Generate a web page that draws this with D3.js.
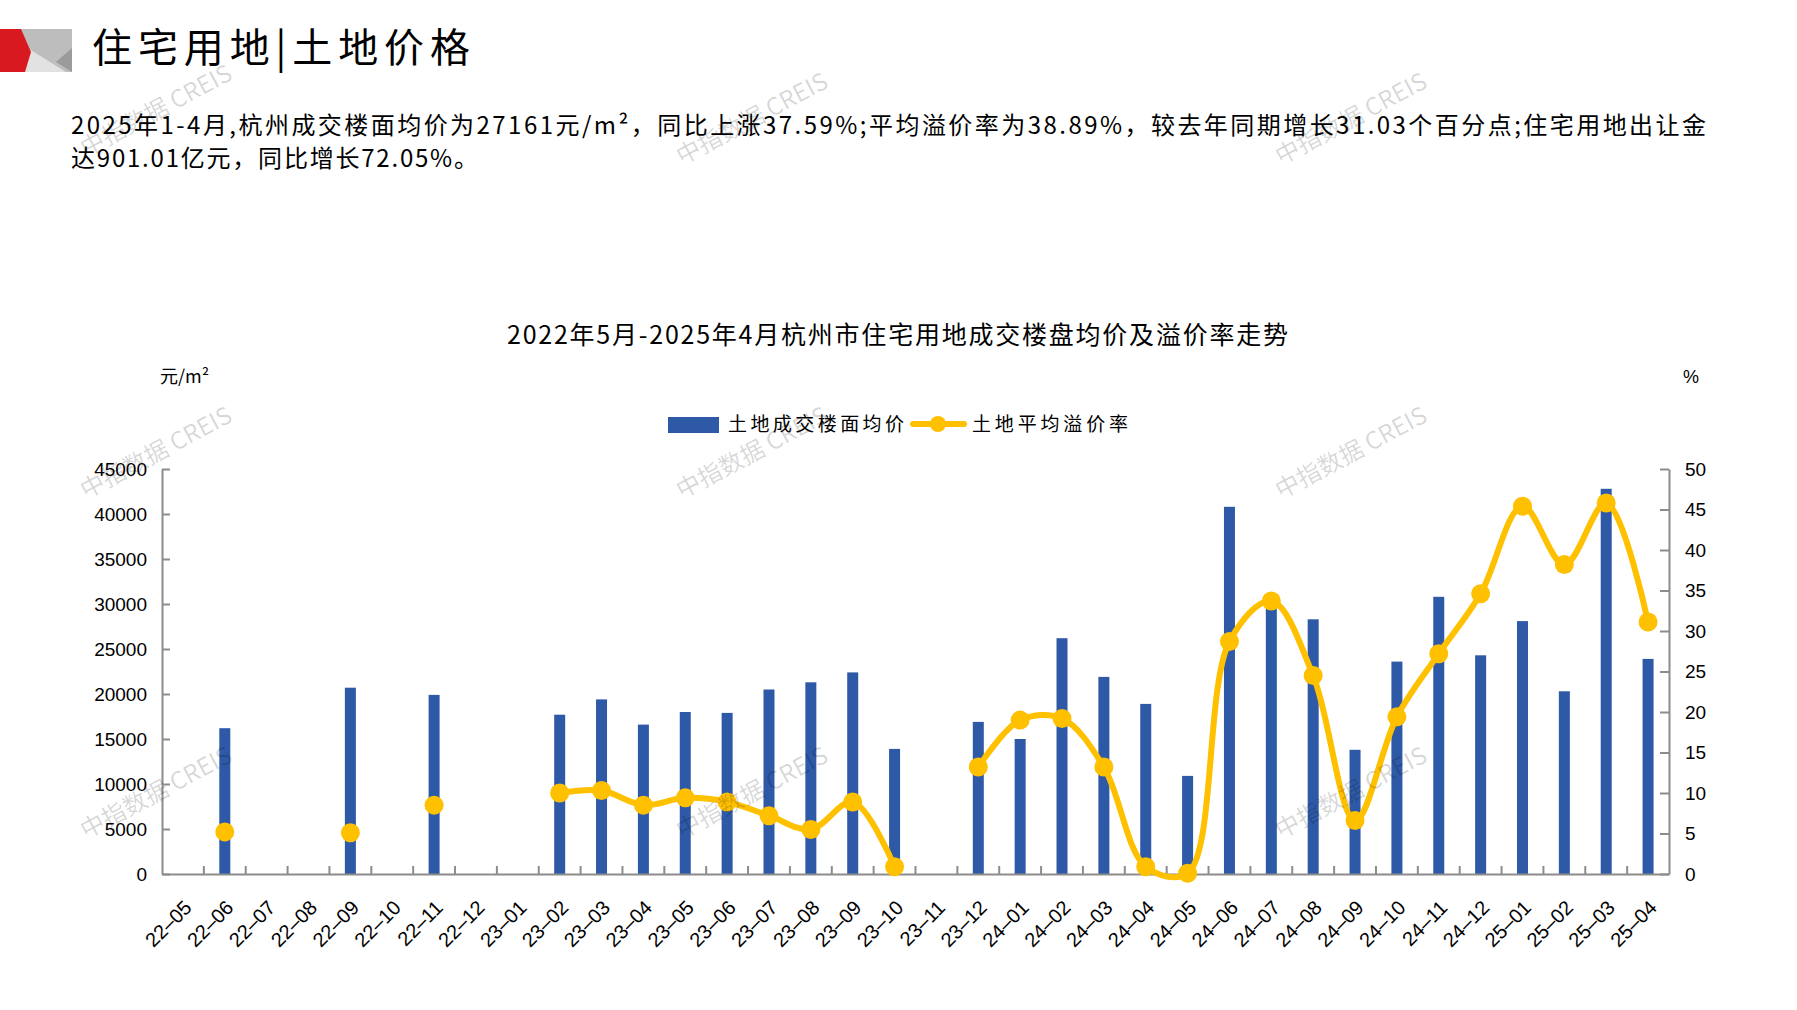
<!DOCTYPE html>
<html>
<head>
<meta charset="utf-8">
<script src="https://cdn.jsdelivr.net/npm/d3@7"></script>
<style>
  body { margin: 0; background: #fff; }
  svg { display: block; }
  text { font-family: "Liberation Sans", Arial, sans-serif; }
  .cjk { font-family: "Noto Sans CJK SC", sans-serif; }
</style>
</head>
<body>
<div id="chart"></div>
<script>
// months on the x axis
const months = ["22-05","22-06","22-07","22-08","22-09","22-10","22-11","22-12",
  "23-01","23-02","23-03","23-04","23-05","23-06","23-07","23-08","23-09","23-10",
  "23-11","23-12","24-01","24-02","24-03","24-04","24-05","24-06","24-07","24-08",
  "24-09","24-10","24-11","24-12","25-01","25-02","25-03","25-04"];

// 土地成交楼面均价 (元/m²), null = no deal that month
const landPrice = [null,16200,null,null,20700,null,19900,null,
  null,17700,19400,16600,18000,17900,20500,21300,22400,13900,
  null,16900,15000,26200,21900,18900,10900,40800,30800,28300,
  13800,23600,30800,24300,28100,20300,42800,23900];

// 土地平均溢价率 (%)
const premiumRate = [null,5.2,null,null,5.1,null,8.5,null,
  null,10.0,10.3,8.5,9.4,8.9,7.2,5.5,8.9,0.9,
  null,13.2,19.0,19.2,13.2,0.9,0.1,28.7,33.7,24.5,
  6.6,19.4,27.2,34.6,45.4,38.2,45.8,31.1];

const leftTicks = [0,5000,10000,15000,20000,25000,30000,35000,40000,45000];
const rightTicks = [0,5,10,15,20,25,30,35,40,45,50];

const W = 1797, H = 1010;
const plotL = 162, plotR = 1669, plotT = 469, plotB = 874;
const barColor = "#2e59a7", lineColor = "#ffc000", axisColor = "#8c8c8c";

const svg = d3.select("#chart").append("svg")
  .attr("width", W).attr("height", H);

// logo block
const logo = svg.append("g");
logo.append("rect").attr("x", 0).attr("y", 29).attr("width", 72).attr("height", 43).attr("fill", "#bdbdbd");
logo.append("polygon").attr("points", "26,47 66,72 22,72").attr("fill", "#e2e2e2");
logo.append("polygon").attr("points", "72,48 72,72 56,62").attr("fill", "#9b9b9b");
logo.append("polygon").attr("points", "0,29 21,29 31,52 25,72 0,72").attr("fill", "#d8191f");

svg.append("text").attr("class", "cjk")
  .attr("x", 92).attr("y", 62)
  .attr("font-size", 40)
  .attr("textLength", 378).attr("lengthAdjust", "spacing")
  .text("住宅用地|土地价格");

svg.append("text").attr("class", "cjk")
  .attr("x", 71).attr("y", 134).attr("font-size", 24)
  .attr("textLength", 1635).attr("lengthAdjust", "spacing")
  .text("2025年1-4月,杭州成交楼面均价为27161元/m²，同比上涨37.59%;平均溢价率为38.89%，较去年同期增长31.03个百分点;住宅用地出让金");
svg.append("text").attr("class", "cjk")
  .attr("x", 71).attr("y", 167).attr("font-size", 24)
  .attr("textLength", 407).attr("lengthAdjust", "spacing")
  .text("达901.01亿元，同比增长72.05%。");

// chart title
svg.append("text").attr("class", "cjk")
  .attr("x", 507).attr("y", 344).attr("font-size", 25)
  .attr("textLength", 781).attr("lengthAdjust", "spacing")
  .text("2022年5月-2025年4月杭州市住宅用地成交楼盘均价及溢价率走势");

svg.append("text").attr("class", "cjk")
  .attr("x", 160).attr("y", 383).attr("font-size", 18)
  .text("元/m²");
svg.append("text")
  .attr("x", 1683).attr("y", 383).attr("font-size", 18)
  .text("%");

// scales
const x = d3.scaleBand().domain(months).range([plotL, plotR]);
const yL = d3.scaleLinear().domain([0, 45000]).range([plotB, plotT]);
const yR = d3.scaleLinear().domain([0, 50]).range([plotB, plotT]);
const bw = x.bandwidth();

// bars
svg.append("g").selectAll("rect")
  .data(months.map((m, i) => ({ m, v: landPrice[i] })).filter(d => d.v != null))
  .enter().append("rect")
  .attr("x", d => x(d.m) + bw / 2 - 5.5)
  .attr("y", d => yL(d.v))
  .attr("width", 11)
  .attr("height", d => plotB - yL(d.v))
  .attr("fill", barColor);

// left axis
const gL = svg.append("g").attr("transform", `translate(${plotL},0)`)
  .call(d3.axisLeft(yL).tickValues(leftTicks).tickFormat(d3.format("d"))
    .tickSizeInner(-8).tickSizeOuter(0).tickPadding(15));
// right axis
const gR = svg.append("g").attr("transform", `translate(${plotR},0)`)
  .call(d3.axisRight(yR).tickValues(rightTicks).tickSizeInner(-9).tickSizeOuter(0).tickPadding(16));
// bottom axis
const gB = svg.append("g").attr("transform", `translate(0,${plotB})`)
  .call(d3.axisBottom(x).tickSize(0).tickSizeOuter(0).tickFormat(d => d.replace("-", "–")));

// category ticks at band boundaries, pointing up
gB.selectAll(".bt").data(months.slice(1)).enter().append("line")
  .attr("x1", d => x(d)).attr("x2", d => x(d))
  .attr("y1", 0).attr("y2", -8)
  .attr("stroke", axisColor).attr("stroke-width", 2);

[gL, gR, gB].forEach(g => {
  g.select(".domain").attr("stroke", axisColor).attr("stroke-width", 2);
  g.selectAll(".tick line").attr("stroke", axisColor).attr("stroke-width", 2);
  g.selectAll(".tick text").attr("font-size", 19).attr("fill", "#000")
    .attr("font-family", "Liberation Sans, Arial, sans-serif");
});
gB.selectAll(".tick text")
  .attr("font-size", 20)
  .attr("y", null).attr("dy", "0.35em")
  .attr("transform", "translate(5,30) rotate(-45)")
  .style("text-anchor", "end");

// premium rate line
const pts = months.map((m, i) => ({ m, v: premiumRate[i] }));
const line = d3.line()
  .defined(d => d.v != null)
  .x(d => x(d.m) + bw / 2)
  .y(d => yR(d.v))
  .curve(d3.curveCatmullRom.alpha(0.5));
svg.append("path").datum(pts)
  .attr("d", line)
  .attr("fill", "none")
  .attr("stroke", lineColor)
  .attr("stroke-width", 6)
  .attr("stroke-linejoin", "round");
svg.append("g").selectAll("circle")
  .data(pts.filter(d => d.v != null))
  .enter().append("circle")
  .attr("cx", d => x(d.m) + bw / 2)
  .attr("cy", d => yR(d.v))
  .attr("r", 9.5)
  .attr("fill", lineColor);

// legend
const lg = svg.append("g");
lg.append("rect").attr("x", 668).attr("y", 417).attr("width", 51).attr("height", 16).attr("fill", barColor);
lg.append("text").attr("class", "cjk").attr("x", 728).attr("y", 431).attr("font-size", 19)
  .attr("textLength", 176).attr("lengthAdjust", "spacing").text("土地成交楼面均价");
lg.append("line").attr("x1", 913).attr("x2", 964).attr("y1", 424).attr("y2", 424)
  .attr("stroke", lineColor).attr("stroke-width", 6).attr("stroke-linecap", "round");
lg.append("circle").attr("cx", 938).attr("cy", 424).attr("r", 8).attr("fill", lineColor);
lg.append("text").attr("class", "cjk").attr("x", 972).attr("y", 431).attr("font-size", 19)
  .attr("textLength", 156).attr("lengthAdjust", "spacing").text("土地平均溢价率");

// watermarks
const wmPos = [[160,118],[756,126],[1355,126],[160,460],[756,460],[1355,460],[160,800],[756,800],[1355,800]];
svg.append("g").selectAll("text").data(wmPos).enter().append("text")
  .attr("class", "cjk")
  .attr("transform", d => `translate(${d[0]},${d[1]}) rotate(-28)`)
  .attr("text-anchor", "middle")
  .attr("font-size", 24)
  .attr("fill", "#000").attr("fill-opacity", 0.16)
  .text("中指数据 CREIS");
</script>
</body>
</html>
